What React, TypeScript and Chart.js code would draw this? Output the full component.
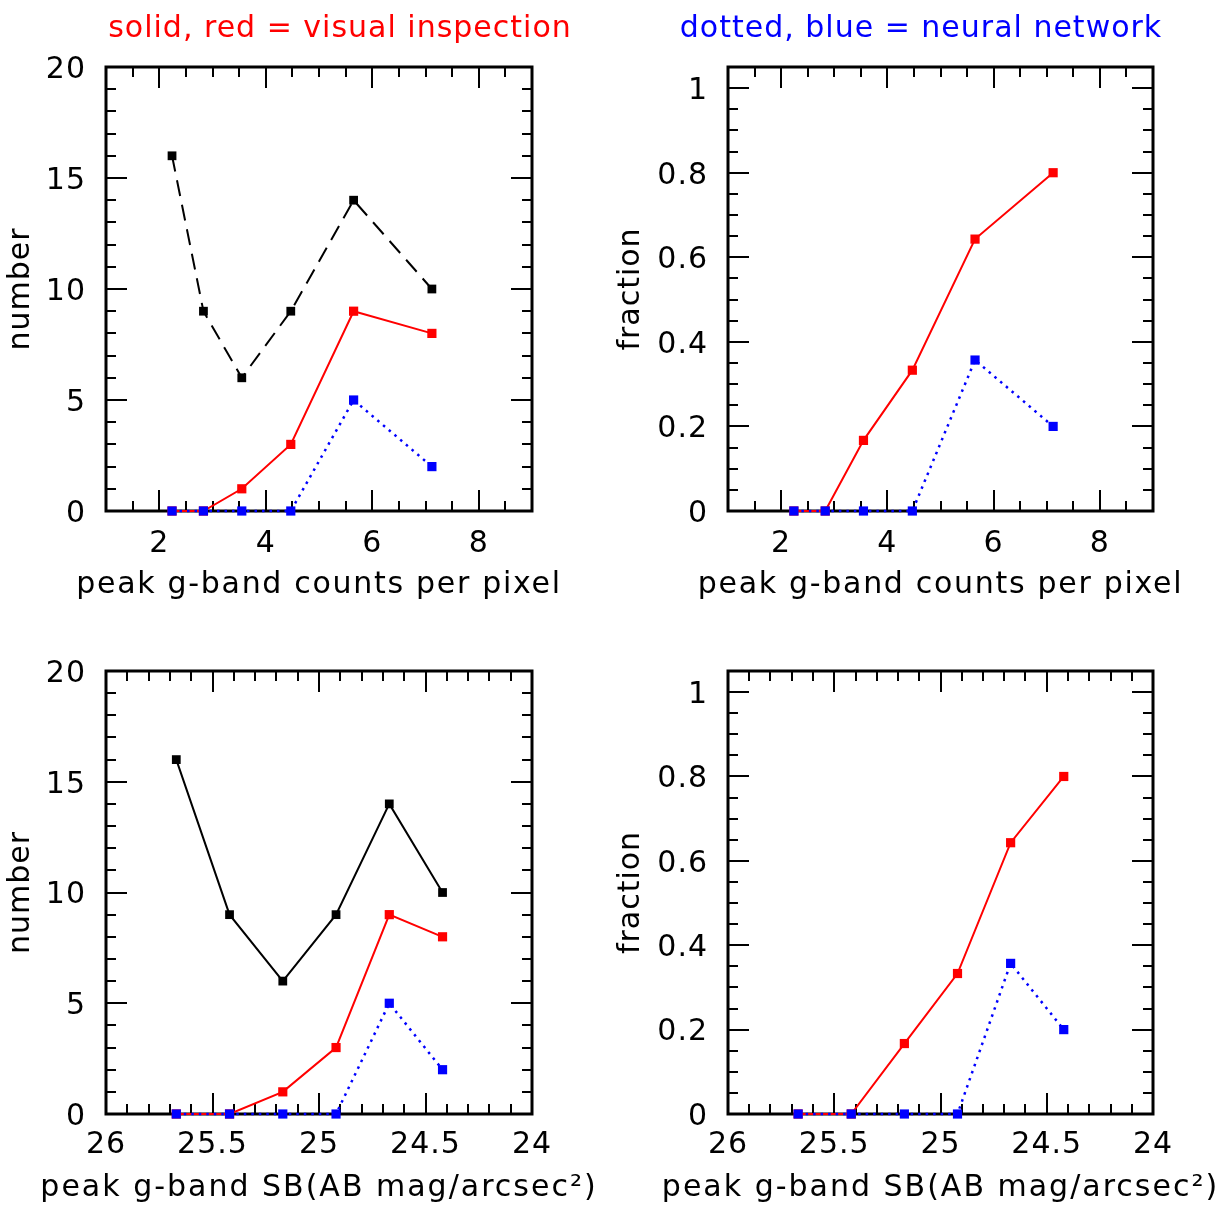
import React, { useEffect, useRef } from "react";
import { Chart, registerables } from "chart.js";

Chart.register(...registerables);

// ---- data ----
const countsX = [2.24, 2.83, 3.55, 4.47, 5.65, 7.12];
const sbX = [25.67, 25.42, 25.17, 24.92, 24.67, 24.42];
const totalN = [16, 9, 6, 9, 14, 10];
const visualN = [0, 0, 1, 3, 9, 8];
const neuralN = [0, 0, 0, 0, 5, 2];
const visualFrac = [0, 0, 0.167, 0.333, 0.643, 0.8];
const neuralFrac = [0, 0, 0, 0, 0.357, 0.2];

const countTicks = [2, 4, 6, 8];
const sbTicks = [26, 25.5, 25, 24.5, 24];
const numberTicks = [0, 5, 10, 15, 20];
const fractionTicks = [0, 0.2, 0.4, 0.6, 0.8, 1];

const titleVisual = "solid, red = visual inspection";
const titleNeural = "dotted, blue = neural network";
const xTitleCounts = "peak g-band counts per pixel";
const xTitleSB = "peak g-band SB(AB mag/arcsec\u00B2)";
const yTitleNumber = "number";
const yTitleFraction = "fraction";

const FONT = "'DejaVu Sans', sans-serif";

type Series = { xs: number[]; ys: number[]; color: string; dash: number[]; width: number; order: number; radius: number };

type Panel = {
  left: number; top: number; width: number; height: number;
  padTop: number; padRight: number; yWidth: number; xHeight: number;
  xMin: number; xMax: number; xReverse: boolean; xTicks: number[]; xMinorStep: number; xMajorStep: number;
  yMin: number; yMax: number; yTicks: number[]; yMinorStep: number; yMajorStep: number;
  xTitle: string; yTitle: string; xTickPad: number; xTitlePad: number; xTitleSpacing: string; yTitlePad: number;
  series: Series[];
};

const frameTicks = {
  id: "frameTicks",
  beforeDatasetsDraw(chart: any, _args: any, opts: any) {
    const { ctx, chartArea } = chart;
    const { left, right, top, bottom } = chartArea;
    const xs = chart.scales.x;
    const ys = chart.scales.y;
    ctx.save();
    ctx.strokeStyle = "#000";
    ctx.lineWidth = 2;
    const isMajor = (v: number, step: number) => Math.abs(v / step - Math.round(v / step)) < 1e-6;
    const nx = Math.round((opts.xMax - opts.xMin) / opts.xMinorStep);
    for (let i = 1; i < nx; i++) {
      const v = opts.xMin + i * opts.xMinorStep;
      const px = Math.round(xs.getPixelForValue(v));
      const len = isMajor(v, opts.xMajorStep) ? 21 : 10;
      ctx.beginPath();
      ctx.moveTo(px, bottom);
      ctx.lineTo(px, bottom - len);
      ctx.moveTo(px, top);
      ctx.lineTo(px, top + len);
      ctx.stroke();
    }
    const ny = Math.round((opts.yMax - opts.yMin) / opts.yMinorStep);
    for (let i = 1; i <= ny; i++) {
      const v = opts.yMin + i * opts.yMinorStep;
      if (v > opts.yMax + 1e-9) break;
      const py = Math.round(ys.getPixelForValue(v));
      const len = isMajor(v, opts.yMajorStep) ? 21 : 10;
      ctx.beginPath();
      ctx.moveTo(left, py);
      ctx.lineTo(left + len, py);
      ctx.moveTo(right, py);
      ctx.lineTo(right - len, py);
      ctx.stroke();
    }
    ctx.lineWidth = 3;
    ctx.strokeRect(left, top, right - left, bottom - top);
    ctx.restore();
  },
  afterDraw(chart: any, _args: any, opts: any) {
    // x-axis title, drawn without the scale-width squeeze
    const { ctx } = chart;
    const xs = chart.scales.x;
    ctx.save();
    ctx.letterSpacing = opts.xTitleSpacing;
    ctx.font = "30px " + FONT;
    ctx.fillStyle = "#000";
    ctx.textAlign = "center";
    ctx.textBaseline = "middle";
    ctx.fillText(opts.xTitle, (xs.left + xs.right) / 2, xs.bottom - 18 - opts.xTitlePad);
    ctx.restore();
  },
};

const spacing = {
  id: "spacing",
  beforeUpdate(chart: any) {
    (chart.ctx as any).letterSpacing = "1px";
  },
  beforeDraw(chart: any) {
    (chart.ctx as any).letterSpacing = "1px";
  },
};

const panels: Panel[] = [
  {
    left: 0, top: 0, width: 611, height: 610,
    padTop: 67, padRight: 79, yWidth: 106, xHeight: 99,
    xMin: 1, xMax: 9, xReverse: false, xTicks: countTicks, xMinorStep: 0.5, xMajorStep: 2,
    yMin: 0, yMax: 20, yTicks: numberTicks, yMinorStep: 1, yMajorStep: 5,
    xTitle: xTitleCounts, yTitle: yTitleNumber, xTickPad: 15, xTitlePad: 7, xTitleSpacing: "1.7px", yTitlePad: 3,
    series: [
      { xs: countsX, ys: totalN, color: "#000000", dash: [16, 9], width: 2, order: 3, radius: 6.2 },
      { xs: countsX, ys: visualN, color: "#ff0000", dash: [], width: 2, order: 2, radius: 6.5 },
      { xs: countsX, ys: neuralN, color: "#0000ff", dash: [2.5, 5], width: 2.5, order: 1, radius: 6.5 },
    ],
  },
  {
    left: 611, top: 0, width: 611, height: 610,
    padTop: 67, padRight: 69, yWidth: 117, xHeight: 99,
    xMin: 1, xMax: 9, xReverse: false, xTicks: countTicks, xMinorStep: 0.5, xMajorStep: 2,
    yMin: 0, yMax: 1.05, yTicks: fractionTicks, yMinorStep: 0.05, yMajorStep: 0.2,
    xTitle: xTitleCounts, yTitle: yTitleFraction, xTickPad: 15, xTitlePad: 7, xTitleSpacing: "1.7px", yTitlePad: 2,
    series: [
      { xs: countsX, ys: visualFrac, color: "#ff0000", dash: [], width: 2, order: 2, radius: 6.5 },
      { xs: countsX, ys: neuralFrac, color: "#0000ff", dash: [2.5, 5], width: 2.5, order: 1, radius: 6.5 },
    ],
  },
  {
    left: 0, top: 610, width: 611, height: 595,
    padTop: 61, padRight: 79, yWidth: 106, xHeight: 91,
    xMin: 24, xMax: 26, xReverse: true, xTicks: sbTicks, xMinorStep: 0.1, xMajorStep: 0.5,
    yMin: 0, yMax: 20, yTicks: numberTicks, yMinorStep: 1, yMajorStep: 5,
    xTitle: xTitleSB, yTitle: yTitleNumber, xTickPad: 13, xTitlePad: -1, xTitleSpacing: "2px", yTitlePad: 3,
    series: [
      { xs: sbX, ys: totalN, color: "#000000", dash: [], width: 2, order: 3, radius: 6.2 },
      { xs: sbX, ys: visualN, color: "#ff0000", dash: [], width: 2, order: 2, radius: 6.5 },
      { xs: sbX, ys: neuralN, color: "#0000ff", dash: [2.5, 5], width: 2.5, order: 1, radius: 6.5 },
    ],
  },
  {
    left: 611, top: 610, width: 611, height: 595,
    padTop: 61, padRight: 69, yWidth: 117, xHeight: 91,
    xMin: 24, xMax: 26, xReverse: true, xTicks: sbTicks, xMinorStep: 0.1, xMajorStep: 0.5,
    yMin: 0, yMax: 1.05, yTicks: fractionTicks, yMinorStep: 0.05, yMajorStep: 0.2,
    xTitle: xTitleSB, yTitle: yTitleFraction, xTickPad: 13, xTitlePad: -1, xTitleSpacing: "2px", yTitlePad: 2,
    series: [
      { xs: sbX, ys: visualFrac, color: "#ff0000", dash: [], width: 2, order: 2, radius: 6.5 },
      { xs: sbX, ys: neuralFrac, color: "#0000ff", dash: [2.5, 5], width: 2.5, order: 1, radius: 6.5 },
    ],
  },
];

function PanelChart({ p }: { p: Panel }) {
  const ref = useRef<HTMLCanvasElement | null>(null);
  useEffect(() => {
    if (!ref.current) return;
    const font = { family: FONT, size: 30 };
    const chart = new Chart(ref.current, {
      type: "line",
      data: {
        datasets: p.series.map((s) => ({
          data: s.xs.map((x, i) => ({ x, y: s.ys[i] })),
          borderColor: s.color,
          backgroundColor: s.color,
          borderWidth: s.width,
          borderDash: s.dash,
          pointStyle: "rect",
          pointRadius: s.radius,
          pointHoverRadius: s.radius,
          pointBorderWidth: 0,
          tension: 0,
          clip: false,
          order: s.order,
        })) as any,
      },
      options: {
        animation: false,
        responsive: false,
        events: [],
        layout: { padding: { top: p.padTop, right: p.padRight, left: 0, bottom: 0 } },
        plugins: {
          legend: { display: false },
          tooltip: { enabled: false },
          frameTicks: {
            xMin: p.xMin, xMax: p.xMax,
            xMinorStep: p.xMinorStep, xMajorStep: p.xMajorStep,
            yMin: p.yMin, yMax: p.yMax, yMinorStep: p.yMinorStep, yMajorStep: p.yMajorStep,
            xTitle: p.xTitle, xTitlePad: p.xTitlePad, xTitleSpacing: p.xTitleSpacing,
          },
        } as any,
        scales: {
          x: {
            type: "linear",
            min: p.xMin,
            max: p.xMax,
            reverse: p.xReverse,
            grid: { display: false, drawTicks: false },
            border: { display: false },
            ticks: {
              color: "#000", font, padding: p.xTickPad, maxRotation: 0, autoSkip: false,
              callback: (v: any) => String(v),
            },
            afterBuildTicks: (s: any) => { s.ticks = p.xTicks.map((v) => ({ value: v })); },
            afterFit: (s: any) => { s.height = p.xHeight; },
            title: { display: false, text: p.xTitle },
          },
          y: {
            type: "linear",
            min: p.yMin,
            max: p.yMax,
            grid: { display: false, drawTicks: false },
            border: { display: false },
            ticks: {
              color: "#000", font, padding: 20, labelOffset: 3, autoSkip: false,
              callback: (v: any) => String(v),
            },
            afterBuildTicks: (s: any) => { s.ticks = p.yTicks.map((v) => ({ value: v })); },
            afterFit: (s: any) => { s.width = p.yWidth; },
            title: { display: true, text: p.yTitle, color: "#000", font, padding: { top: p.yTitlePad, bottom: 0 } },
          },
        },
      } as any,
      plugins: [spacing, frameTicks],
    });
    return () => chart.destroy();
  }, [p]);
  return (
    <canvas
      ref={ref}
      width={p.width}
      height={p.height}
      style={{ position: "absolute", left: p.left, top: p.top, width: p.width, height: p.height, display: "block" }}
    />
  );
}

const titleStyle: React.CSSProperties = {
  position: "absolute",
  top: 9,
  width: 600,
  textAlign: "center",
  fontFamily: FONT,
  fontSize: 30,
  lineHeight: "36px",
  letterSpacing: "1px",
  whiteSpace: "nowrap",
};

export default function App() {
  return (
    <div style={{ position: "absolute", left: 0, top: 0, width: 1222, height: 1205, background: "#fff", overflow: "hidden" }}>
      {panels.map((p, i) => (
        <PanelChart key={i} p={p} />
      ))}
      <div style={{ ...titleStyle, left: 340 - 300, color: "#ff0000" }}>{titleVisual}</div>
      <div style={{ ...titleStyle, left: 921 - 300, color: "#0000ff" }}>{titleNeural}</div>
    </div>
  );
}
